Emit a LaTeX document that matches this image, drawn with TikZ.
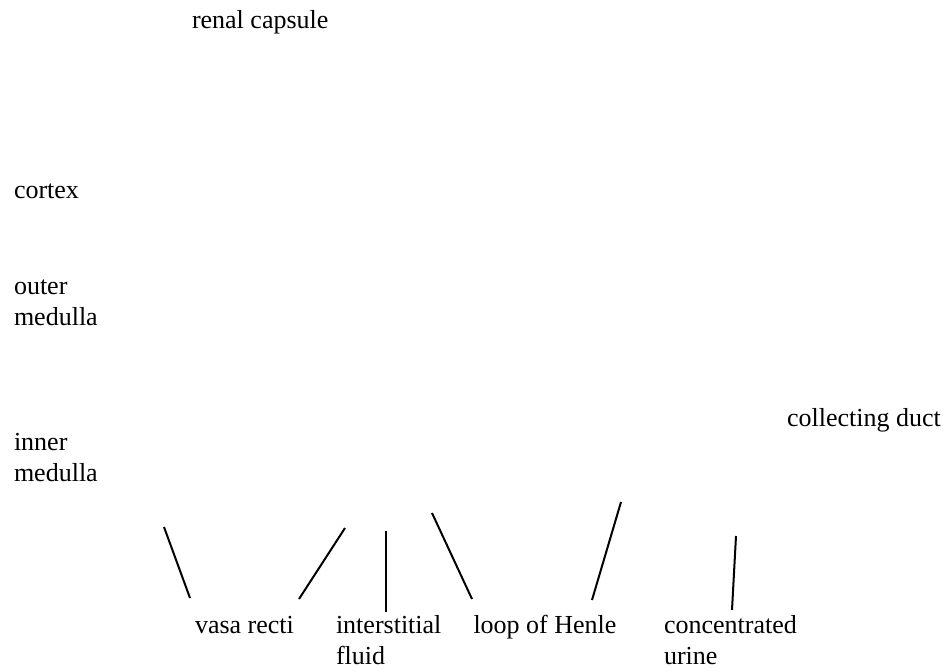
\documentclass[tikz,border=0pt]{standalone}
\usepackage{fontspec}
\setmainfont{Liberation Serif}
\begin{document}
\begin{tikzpicture}[x=1pt,y=-1pt,
  lbl/.style={anchor=base west,inner sep=0pt,outer sep=0pt,align=left,
    font=\fontsize{26}{31.5}\selectfont},
  leader/.style={line width=2pt,black}]
\useasboundingbox (0,0) rectangle (951,670);
% single-line labels: anchor at baseline; two-line labels: anchor at last baseline
\node[lbl] (capsule) at (192,28.5) {renal capsule};
\node[lbl] (cortex) at (14,198.5) {cortex};
\node[lbl] (outer) at (14,325.5) {outer\\medulla};
\node[lbl] (inner) at (14,481.5) {inner\\medulla};
\node[lbl] (duct) at (787,426.5) {collecting duct};
\node[lbl] (vasa) at (195,633) {vasa recti};
\node[lbl] (fluid) at (336,664.5) {interstitial\\fluid};
\node[lbl] (henle) at (473.5,633) {loop of Henle};
\node[lbl] (urine) at (664,664.5) {concentrated\\urine};
\coordinate (a1) at (164,527); \coordinate (a2) at (190,598);
\coordinate (b1) at (345,528); \coordinate (b2) at (299,599);
\coordinate (c1) at (386,531); \coordinate (c2) at (386,612);
\coordinate (d1) at (432,513); \coordinate (d2) at (472,599);
\coordinate (e1) at (621,502); \coordinate (e2) at (592,600);
\coordinate (f1) at (736,536); \coordinate (f2) at (732,610);
\draw[leader] (a1) -- (a2);
\draw[leader] (b1) -- (b2);
\draw[leader] (c1) -- (c2);
\draw[leader] (d1) -- (d2);
\draw[leader] (e1) -- (e2);
\draw[leader] (f1) -- (f2);
\end{tikzpicture}
\end{document}
